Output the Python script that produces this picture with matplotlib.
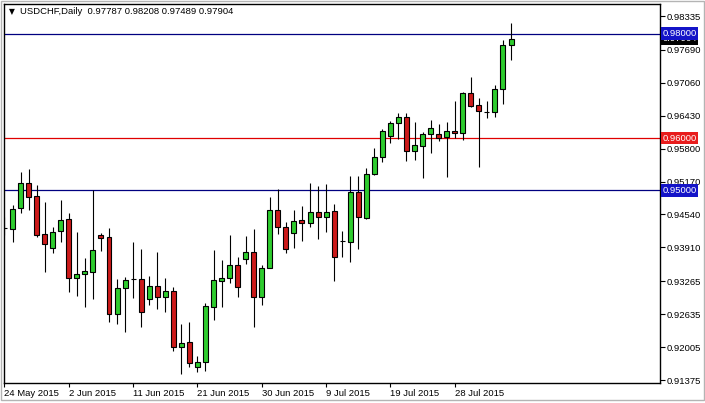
import matplotlib
matplotlib.use("Agg")
import matplotlib.pyplot as plt
import matplotlib.transforms as mtransforms
from matplotlib.patches import Rectangle
import pandas as pd
import numpy as np

plt.rcParams['font.family'] = ['Liberation Sans', 'DejaVu Sans']

symbol = "USDCHF,Daily"
last_ohlc = "0.97787 0.98208 0.97489 0.97904"

opens = [0.94282, 0.94263, 0.94664, 0.95142, 0.94893, 0.94167, 0.93899, 0.94224,
         0.94454, 0.93326, 0.93402, 0.93440, 0.94148, 0.94110, 0.92637, 0.93134,
         0.93305, 0.93307, 0.92924, 0.93173, 0.92962, 0.93077, 0.92006, 0.92102,
         0.91624, 0.91720, 0.92771, 0.93268, 0.93326, 0.93574, 0.93689, 0.93823,
         0.92962, 0.93517, 0.94626, 0.94301, 0.94186, 0.94435, 0.94377, 0.94588,
         0.94492, 0.94607, 0.94033, 0.94014, 0.94970, 0.94473, 0.95314, 0.95639,
         0.96041, 0.96289, 0.96404, 0.95754, 0.95849, 0.96079, 0.96079, 0.96022,
         0.96136, 0.96098, 0.96863, 0.96633, 0.96500, 0.96500, 0.96939, 0.97787]
highs = [0.94492, 0.94721, 0.95352, 0.95410, 0.95104, 0.94779, 0.94301, 0.94817,
         0.94568, 0.94205, 0.93708, 0.95008, 0.94186, 0.94282, 0.93307, 0.93345,
         0.94014, 0.93880, 0.93364, 0.93823, 0.93326, 0.93154, 0.92446, 0.92484,
         0.91834, 0.92848, 0.93861, 0.93670, 0.94148, 0.93727, 0.94129, 0.94263,
         0.93574, 0.94874, 0.95027, 0.94396, 0.94626, 0.94702, 0.95142, 0.95085,
         0.95123, 0.94741, 0.94224, 0.95276, 0.95276, 0.95429, 0.95811, 0.96175,
         0.96327, 0.96480, 0.96480, 0.96308, 0.96117, 0.96347, 0.96270, 0.96308,
         0.96710, 0.96882, 0.97169, 0.96767, 0.96710, 0.97016, 0.97876, 0.98208]
lows = [0.94148, 0.94014, 0.94568, 0.94626, 0.94110, 0.93440, 0.93804, 0.94014,
        0.93058, 0.92981, 0.92771, 0.92924, 0.93842, 0.92484, 0.92446, 0.92293,
        0.92943, 0.92389, 0.92809, 0.92733, 0.92676, 0.91930, 0.91490, 0.91624,
        0.91528, 0.91547, 0.92523, 0.92771, 0.93230, 0.92962, 0.93593, 0.92389,
        0.92809, 0.93517, 0.94167, 0.93804, 0.93899, 0.94033, 0.94301, 0.94071,
        0.94205, 0.93268, 0.93727, 0.93632, 0.93880, 0.94454, 0.95295, 0.95544,
        0.95907, 0.95983, 0.95563, 0.95582, 0.95238, 0.95716, 0.95945, 0.95257,
        0.96002, 0.95964, 0.96595, 0.95448, 0.96385, 0.96404, 0.96653, 0.97489]
closes = [0.94282, 0.94645, 0.95142, 0.94874, 0.94148, 0.93976, 0.94205, 0.94435,
          0.93326, 0.93402, 0.93459, 0.93861, 0.94090, 0.92637, 0.93134, 0.93287,
          0.93305, 0.92676, 0.93173, 0.92962, 0.93077, 0.92006, 0.92083, 0.91700,
          0.91720, 0.92790, 0.93287, 0.93326, 0.93574, 0.93154, 0.93823, 0.92962,
          0.93517, 0.94626, 0.94301, 0.93880, 0.94415, 0.94377, 0.94588, 0.94492,
          0.94588, 0.93727, 0.94033, 0.94970, 0.94492, 0.95314, 0.95639, 0.96136,
          0.96289, 0.96404, 0.95754, 0.95869, 0.96079, 0.96194, 0.96002, 0.96136,
          0.96098, 0.96863, 0.96614, 0.96519, 0.96500, 0.96939, 0.97781, 0.97904]

price_ticks = [0.98335, 0.97690, 0.97060, 0.96430, 0.95800, 0.95170,
               0.94540, 0.93910, 0.93265, 0.92635, 0.92005, 0.91375]
date_labels = ['24 May 2015', '2 Jun 2015', '11 Jun 2015', '21 Jun 2015',
               '30 Jun 2015', '9 Jul 2015', '19 Jul 2015', '28 Jul 2015']
levels = [0.98000, 0.96000, 0.95000]
level_line_colors = ['#000080', '#e00000', '#000080']
level_box_colors = ['#1414c8', '#e81c1c', '#1414c8']

# trading days (Sunday-Friday sessions)
days = pd.date_range('2015-05-24', '2015-08-05')
days = days[days.weekday != 5]
x = np.arange(len(opens))

fig = plt.figure(figsize=(7.05, 4.03), dpi=100)
fig.patch.set_facecolor('white')
ax = fig.add_axes([4/705, 20/403, 656/705, 379/403])
ax.set_facecolor('white')

o = np.array(opens); h = np.array(highs); l = np.array(lows); c = np.array(closes)
up = c >= o
ax.vlines(x, l, h, color='black', lw=0.8, zorder=2)
body_col = np.where(up, '#2ecc2e', '#cc1a1a')
ax.bar(x, np.abs(c - o), bottom=np.minimum(o, c), width=0.62,
       color=body_col, edgecolor='black', linewidth=0.8, zorder=3)

for lv, lc in zip(levels, level_line_colors):
    ax.axhline(lv, color=lc, lw=0.9, zorder=1)

ax.set_xlim(-0.06, 81.53)
ax.set_ylim(0.91318, 0.98565)

ax.yaxis.tick_right()
ax.set_yticks(price_ticks)
ax.set_yticklabels([f"{t:.5f}" for t in price_ticks])
ax.tick_params(axis='y', direction='out', length=3.5, width=0.8, pad=1.5,
               labelsize=6.8, colors='black')

tick_pos = [int(np.where(days == pd.Timestamp(pd.to_datetime(d)))[0][0]) for d in date_labels]
ax.set_xticks(tick_pos)
ax.set_xticklabels(date_labels)
for lab in ax.get_xticklabels():
    lab.set_horizontalalignment('left')
ax.tick_params(axis='x', direction='out', length=3, width=0.8, pad=1.5,
               labelsize=6.8, colors='black')

for s in ax.spines.values():
    s.set_color('black')
    s.set_linewidth(1.0)

trans = mtransforms.blended_transform_factory(ax.transAxes, ax.transData)
# current price box (behind)
ax.text(1.0035, closes[-1], f"{closes[-1]:.5f}", transform=trans, ha='left', va='center',
        fontsize=6.8, color='white', clip_on=False, zorder=5,
        bbox=dict(boxstyle='square,pad=0.18', fc='black', ec='none'))
for lv, bc in zip(levels, level_box_colors):
    ax.text(1.0035, lv, f"{lv:.5f}", transform=trans, ha='left', va='center',
            fontsize=6.8, color='white', clip_on=False, zorder=6,
            bbox=dict(boxstyle='square,pad=0.18', fc=bc, ec='none'))

fig.text(9/705, 1 - 12/403, "\u25BC", fontsize=5.5, family=['DejaVu Sans'],
         va='center', ha='left', color='black')
fig.text(20/705, 1 - 12/403, f"{symbol}  {last_ohlc}", fontsize=6.8,
         va='center', ha='left', color='black')

fig.add_artist(Rectangle((0.5/705, 3/403), 703/705, 399.5/403, transform=fig.transFigure,
                         fill=False, ec='#b4b4b4', lw=1.0))

fig.savefig('out.png', dpi=100, facecolor='white')
